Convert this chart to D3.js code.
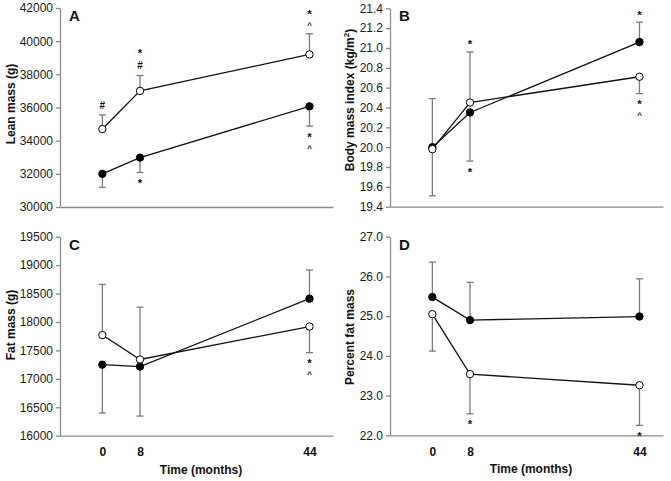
<!DOCTYPE html>
<html>
<head>
<meta charset="utf-8">
<script src="https://cdn.jsdelivr.net/npm/d3@7"></script>
<style>
body { margin: 0; background: #fff; }
svg { display: block; font-family: Arial, "Liberation Sans", sans-serif; }
</style>
</head>
<body>
<svg id="chart" width="671" height="481"></svg>
<script>
const months = [0, 8, 44];

// A - lean mass (g)
const leanOpen = [34700, 37000, 39200];
const leanOpenErr = [850, 930, 1250];
const leanFilled = [32000, 32980, 36070];
const leanFilledErr = [-810, -900, -1190];

// B - body mass index
const bmiOpen = [19.98, 20.45, 20.71];
const bmiOpenErr = [0.51, 0.51, -0.17];
const bmiFilled = [20.00, 20.35, 21.06];
const bmiFilledErr = [-0.49, -0.49, 0.20];

// C - fat mass (g)
const fatOpen = [17770, 17340, 17920];
const fatOpenErr = [890, 920, -460];
const fatFilled = [17250, 17215, 18410];
const fatFilledErr = [-850, -870, 505];

// D - percent fat mass
const pctOpen = [25.05, 23.54, 23.26];
const pctOpenErr = [-0.93, -1.00, -1.01];
const pctFilled = [25.48, 24.90, 24.99];
const pctFilledErr = [0.88, 0.95, 0.95];

// significance marks: series, time index, symbols from the cap outward
const leanMarks = [
    {series: "open", i: 0, marks: ["#"]},
    {series: "open", i: 1, marks: ["#", "*"]},
    {series: "open", i: 2, marks: ["^", "*"]},
    {series: "filled", i: 1, marks: ["*"]},
    {series: "filled", i: 2, marks: ["*", "^"]}
];
const bmiMarks = [
    {series: "open", i: 1, marks: ["*"]},
    {series: "filled", i: 1, marks: ["*"]},
    {series: "filled", i: 2, marks: ["*"]},
    {series: "open", i: 2, marks: ["*", "^"]}
];
const fatMarks = [
    {series: "open", i: 2, marks: ["*", "^"]}
];
const pctMarks = [
    {series: "open", i: 1, marks: ["*"]},
    {series: "open", i: 2, marks: ["*"]}
];

const svg = d3.select("#chart");

const AXIS_GREY = "#8a8a8a";
const ERR_GREY = "#7a7a7a";

// size and vertical centre of each glyph relative to its baseline (em)
const glyphSize = {"*": 11.5, "^": 8, "#": 10};
const glyphShift = {"*": 0.56, "^": 0.55, "#": 0.36};
const ASC = 0.905, DESC = 0.212;

function aboveCentre(s) { return (ASC - glyphShift[s]) * glyphSize[s]; }
function belowCentre(s) { return (glyphShift[s] + DESC) * glyphSize[s]; }

function drawPanel(p) {
    const g = svg.append("g");

    const x = d3.scaleLinear().domain([-9, 49]).range([p.left, p.left + 273]);
    const y = d3.scaleLinear().domain(p.domain).range([p.bottom, p.top]);

    // y axis
    const yAxis = d3.axisLeft(y)
        .tickValues(p.ticks)
        .tickSize(4)
        .tickSizeOuter(0)
        .tickPadding(3)
        .tickFormat(p.fmt);

    const ya = g.append("g")
        .attr("transform", `translate(${p.left},0)`)
        .call(yAxis);
    ya.select(".domain").attr("stroke", AXIS_GREY).attr("stroke-width", 1.3);
    ya.selectAll(".tick line").attr("stroke", AXIS_GREY).attr("stroke-width", 1.3);
    ya.selectAll(".tick text")
        .attr("fill", "#1a1a1a")
        .style("font-size", "12px")
        .style("font-family", "Arial, 'Liberation Sans', sans-serif");

    // x axis (line only, labels on the lower row)
    const xAxis = d3.axisBottom(x)
        .tickValues(p.showX ? months : [])
        .tickSize(0)
        .tickSizeOuter(0)
        .tickPadding(12)
        .tickFormat(d3.format("d"));

    const xa = g.append("g")
        .attr("transform", `translate(0,${p.bottom})`)
        .call(xAxis);
    xa.select(".domain").attr("stroke", AXIS_GREY).attr("stroke-width", 1.3);
    xa.selectAll(".tick text")
        .attr("fill", "#111")
        .style("font-size", "12px")
        .style("font-weight", "bold")
        .style("font-family", "Arial, 'Liberation Sans', sans-serif");

    if (p.showX) {
        g.append("text")
            .attr("x", p.left + 141)
            .attr("y", p.bottom + 38)
            .attr("text-anchor", "middle")
            .style("font-size", "12px")
            .style("font-weight", "bold")
            .attr("fill", "#111")
            .text("Time (months)");
    }

    // y label
    const yl = g.append("text")
        .attr("transform", `translate(${p.labelX},${p.labelY}) rotate(-90)`)
        .attr("text-anchor", "middle")
        .style("font-size", "12px")
        .style("font-weight", "bold")
        .attr("fill", "#111");
    if (p.sup) {
        yl.append("tspan").text(p.label);
        yl.append("tspan").attr("dy", -5).style("font-size", "8px").text(p.sup);
        yl.append("tspan").attr("dy", 5).text(")");
    } else {
        yl.text(p.label);
    }

    // panel letter
    g.append("text")
        .attr("x", p.left + 9)
        .attr("y", p.top + 13)
        .style("font-size", "15px")
        .style("font-weight", "bold")
        .attr("fill", "#111")
        .text(p.letter);

    const series = {
        open: months.map((m, i) => ({m: m, v: p.open[i], e: p.openErr[i]})),
        filled: months.map((m, i) => ({m: m, v: p.filled[i], e: p.filledErr[i]}))
    };

    // error bars
    ["filled", "open"].forEach(key => {
        series[key].forEach(d => {
            const y0 = y(d.v);
            const y1 = y(d.v + d.e);
            g.append("line")
                .attr("x1", x(d.m)).attr("x2", x(d.m))
                .attr("y1", y0).attr("y2", y1)
                .attr("stroke", ERR_GREY).attr("stroke-width", 1.3);
            g.append("line")
                .attr("x1", x(d.m) - 3.5).attr("x2", x(d.m) + 3.5)
                .attr("y1", y1).attr("y2", y1)
                .attr("stroke", ERR_GREY).attr("stroke-width", 1.3);
        });
    });

    const line = d3.line().x(d => x(d.m)).y(d => y(d.v));

    ["filled", "open"].forEach(key => {
        g.append("path")
            .datum(series[key])
            .attr("d", line)
            .attr("fill", "none")
            .attr("stroke", "#111")
            .attr("stroke-width", 1.3);
    });

    ["filled", "open"].forEach(key => {
        g.selectAll(null)
            .data(series[key])
            .enter()
            .append("circle")
            .attr("cx", d => x(d.m))
            .attr("cy", d => y(d.v))
            .attr("r", 3.7)
            .attr("fill", key === "open" ? "#fff" : "#000")
            .attr("stroke", "#000")
            .attr("stroke-width", 1);
    });

    // significance marks, stacked away from the cap without overlapping
    p.marks.forEach(a => {
        const d = series[a.series][a.i];
        const capY = y(d.v + d.e);
        const up = d.e > 0;
        let cy = up ? capY - 10 : capY + 8;
        a.marks.forEach((s, k) => {
            if (k > 0) {
                const prev = a.marks[k - 1];
                const need = up
                    ? aboveCentre(prev) + belowCentre(s) + 0.5
                    : belowCentre(prev) + aboveCentre(s) + 0.5;
                cy += (up ? -1 : 1) * Math.max(10, need);
            }
            g.append("text")
                .attr("x", x(d.m))
                .attr("y", cy + glyphShift[s] * glyphSize[s])
                .attr("text-anchor", "middle")
                .style("font-size", glyphSize[s] + "px")
                .style("font-weight", "bold")
                .attr("fill", "#111")
                .text(s);
        });
    });
}

const panels = [
    {
        letter: "A", left: 60, top: 8, bottom: 207,
        domain: [30000, 42000], ticks: d3.range(30000, 42001, 2000), fmt: d3.format("d"),
        label: "Lean mass (g)", labelX: 15, labelY: 104,
        open: leanOpen, openErr: leanOpenErr, filled: leanFilled, filledErr: leanFilledErr,
        marks: leanMarks, showX: false
    },
    {
        letter: "B", left: 390, top: 8.3, bottom: 206.7,
        domain: [19.4, 21.4], ticks: d3.range(0, 11).map(i => 19.4 + i * 0.2), fmt: d3.format(".1f"),
        label: "Body mass index (kg/m", sup: "2", labelX: 354, labelY: 100,
        open: bmiOpen, openErr: bmiOpenErr, filled: bmiFilled, filledErr: bmiFilledErr,
        marks: bmiMarks, showX: false
    },
    {
        letter: "C", left: 60, top: 236.7, bottom: 435.7,
        domain: [16000, 19500], ticks: d3.range(16000, 19501, 500), fmt: d3.format("d"),
        label: "Fat mass (g)", labelX: 15, labelY: 325,
        open: fatOpen, openErr: fatOpenErr, filled: fatFilled, filledErr: fatFilledErr,
        marks: fatMarks, showX: true
    },
    {
        letter: "D", left: 390, top: 236.7, bottom: 435.3,
        domain: [22, 27], ticks: d3.range(22, 27.01, 1), fmt: d3.format(".1f"),
        label: "Percent fat mass", labelX: 354, labelY: 337,
        open: pctOpen, openErr: pctOpenErr, filled: pctFilled, filledErr: pctFilledErr,
        marks: pctMarks, showX: true
    }
];

panels.forEach(drawPanel);
</script>
</body>
</html>
